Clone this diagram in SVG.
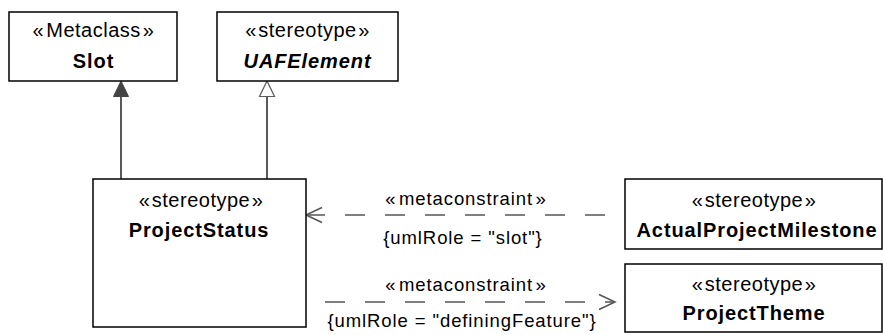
<svg xmlns="http://www.w3.org/2000/svg" width="883" height="335" viewBox="0 0 883 335">
<style>
.box{fill:#fff;stroke:#000;stroke-width:1.5}
text{font-family:"Liberation Sans",Arial,sans-serif;font-size:20px;fill:#000;text-anchor:middle;letter-spacing:0.5px}
.b{font-weight:bold;letter-spacing:0.9px}
.bi{font-weight:bold;font-style:italic;letter-spacing:0.9px}
.lbl{font-size:18.5px;letter-spacing:0.9px}
.gen{stroke:#5a5a5a;stroke-width:2;fill:none}
.dep{stroke:#555;stroke-width:1.5;fill:none;stroke-dasharray:20 20}
.open{stroke:#555;stroke-width:1.5;fill:none}
</style>
<rect width="883" height="335" fill="#fff"/>
<g id="connectors">
<line class="gen" x1="121" y1="96" x2="121" y2="179"/>
<path d="M121,81 L113.5,96.5 L128.5,96.5 Z" fill="#444" stroke="#444" stroke-width="1"/>
<line class="gen" x1="267" y1="96" x2="267" y2="179"/>
<path d="M267,81 L259.5,96.5 L274.5,96.5 Z" fill="#fff" stroke="#5a5a5a" stroke-width="1.2"/>
<line class="dep" x1="605" y1="215" x2="306" y2="215"/>
<path class="open" d="M322,207.5 L306,215 L322,222.5"/>
<line class="dep" x1="325" y1="302" x2="614" y2="302"/>
<path class="open" d="M599,294.5 L615,302 L599,309.5"/>
<text class="lbl" x="466" y="205">«<tspan dx="2.5">metaconstraint</tspan><tspan dx="2.5">»</tspan></text>
<text class="lbl" x="463" y="244">{umlRole = "slot"}</text>
<text class="lbl" x="466" y="291">«<tspan dx="2.5">metaconstraint</tspan><tspan dx="2.5">»</tspan></text>
<text class="lbl" x="462" y="327">{umlRole = "definingFeature"}</text>
</g>
<g id="slot">
<rect class="box" x="9" y="12" width="168" height="69"/>
<text x="93.5" y="37">«<tspan dx="2">Metaclass</tspan><tspan dx="2">»</tspan></text>
<text class="b" x="93.5" y="68">Slot</text>
</g>
<g id="uafelement">
<rect class="box" x="217" y="12" width="181" height="69"/>
<text x="307.5" y="37">«<tspan dx="1.5">stereotype</tspan><tspan dx="1.5">»</tspan></text>
<text class="bi" x="307.5" y="68">UAFElement</text>
</g>
<g id="projectstatus">
<rect class="box" x="93" y="179" width="213" height="148"/>
<text x="201" y="207">«<tspan dx="1.5">stereotype</tspan><tspan dx="1.5">»</tspan></text>
<text class="b" x="199" y="237">ProjectStatus</text>
</g>
<g id="actualprojectmilestone">
<rect class="box" x="625" y="179" width="257" height="70"/>
<text x="754" y="207">«<tspan dx="1.5">stereotype</tspan><tspan dx="1.5">»</tspan></text>
<text class="b" x="757" y="237">ActualProjectMilestone</text>
</g>
<g id="projecttheme">
<rect class="box" x="625" y="264" width="257" height="68"/>
<text x="754" y="291">«<tspan dx="1.5">stereotype</tspan><tspan dx="1.5">»</tspan></text>
<text class="b" x="754" y="320">ProjectTheme</text>
</g>
</svg>
